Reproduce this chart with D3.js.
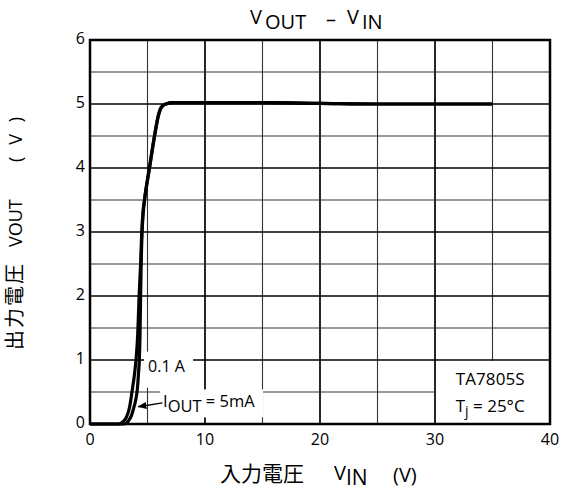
<!DOCTYPE html>
<html>
<head>
<meta charset="utf-8">
<script src="https://cdn.jsdelivr.net/npm/d3@7"></script>
<style>
  body { margin: 0; background: #fff; }
  text { font-family: "Open Sans", "Noto Sans", sans-serif; fill: #000; }
  .cjk { font-family: "Noto Sans CJK JP", sans-serif; }
</style>
</head>
<body>
<div id="chart"></div>
<script>
// axis ticks
var xTicks = [0, 10, 20, 30, 40];
var yTicks = [0, 1, 2, 3, 4, 5, 6];
var xGrid = [5, 10, 15, 20, 25, 30, 35];
var yGrid = [0.5, 1, 1.5, 2, 2.5, 3, 3.5, 4, 4.5, 5, 5.5];

// Iout = 0.1 A (left branch at the bottom)
var vin01A  = [0, 2.5, 2.9, 3.2, 3.45, 3.65, 3.85, 4.0, 4.15, 4.27, 4.4, 4.5, 4.6, 4.73, 5.16, 5.6, 5.95, 6.2, 6.6, 7.2, 10, 15, 20, 25, 30, 35];
var vout01A = [0, 0, 0.04, 0.12, 0.27, 0.5, 0.75, 1.0, 1.4, 2.0, 2.5, 3.0, 3.3, 3.5, 4.0, 4.5, 4.83, 4.95, 5.0, 5.02, 5.02, 5.02, 5.01, 5.0, 5.0, 5.0];

// Iout = 5 mA (right branch at the bottom)
var vin5mA  = [0, 3.0, 3.35, 3.6, 3.8, 4.0, 4.12, 4.22, 4.29, 4.35, 4.4, 4.45, 4.53, 4.63, 4.75, 5.18, 5.62, 5.97, 6.22, 6.62, 7.2, 10, 15, 20, 25, 30, 35];
var vout5mA = [0, 0, 0.05, 0.13, 0.25, 0.4, 0.55, 0.8, 1.0, 1.4, 2.0, 2.5, 3.0, 3.3, 3.5, 4.0, 4.5, 4.83, 4.95, 5.0, 5.02, 5.02, 5.02, 5.01, 5.0, 5.0, 5.0];

var svgWidth = 563;
var svgHeight = 490;
var margin = { top: 40, right: 13, bottom: 66, left: 90 };
var width = svgWidth - margin.left - margin.right;   // 460
var height = svgHeight - margin.top - margin.bottom; // 384

var svg = d3.select("#chart")
  .append("svg")
  .attr("width", svgWidth)
  .attr("height", svgHeight);

var chartGroup = svg.append("g")
  .attr("transform", `translate(${margin.left}, ${margin.top})`);

var x = d3.scaleLinear().domain([0, 40]).range([0, width]);
var y = d3.scaleLinear().domain([0, 6]).range([height, 0]);

// grid
chartGroup.selectAll(".vgrid")
  .data(xGrid)
  .enter()
  .append("line")
  .attr("x1", d => x(d)).attr("x2", d => x(d))
  .attr("y1", 0).attr("y2", height)
  .attr("stroke", d => d % 10 === 0 ? "#000" : "#333")
  .attr("stroke-width", d => d % 10 === 0 ? 1.7 : 1.1);

chartGroup.selectAll(".hgrid")
  .data(yGrid)
  .enter()
  .append("line")
  .attr("x1", 0).attr("x2", width)
  .attr("y1", d => y(d)).attr("y2", d => y(d))
  .attr("stroke", d => d % 1 === 0 ? "#000" : "#333")
  .attr("stroke-width", d => d % 1 === 0 ? 1.7 : 1.1);

// white boxes behind the annotations (grid is hidden there)
chartGroup.append("rect")
  .attr("x", x(4.7)).attr("y", y(1.13))
  .attr("width", 49).attr("height", 36)
  .attr("fill", "#fff");
chartGroup.append("rect")
  .attr("x", x(6.1)).attr("y", y(0.54))
  .attr("width", 103).attr("height", 28)
  .attr("fill", "#fff");
chartGroup.append("rect")
  .attr("x", x(30.1)).attr("y", y(0.985))
  .attr("width", x(40) - x(30.1)).attr("height", y(0) - y(0.985))
  .attr("fill", "#fff");

// frame
chartGroup.append("rect")
  .attr("width", width).attr("height", height)
  .attr("fill", "none")
  .attr("stroke", "#000")
  .attr("stroke-width", 2.5);

// tick labels
chartGroup.selectAll(".xtick")
  .data(xTicks)
  .enter()
  .append("text")
  .attr("x", d => x(d))
  .attr("y", height + 21)
  .attr("text-anchor", "middle")
  .style("font-size", "16px")
  .text(d => d);

chartGroup.selectAll(".ytick")
  .data(yTicks)
  .enter()
  .append("text")
  .attr("x", -5)
  .attr("y", d => y(d) + 4)
  .attr("text-anchor", "end")
  .style("font-size", "16px")
  .text(d => d);

// curves
var line = d3.line()
  .x(d => x(d[0]))
  .y(d => y(d[1]))
  .curve(d3.curveMonotoneX);

[[vin01A, vout01A], [vin5mA, vout5mA]].forEach(function(s) {
  chartGroup.append("path")
    .datum(d3.zip(s[0], s[1]))
    .attr("d", line)
    .attr("fill", "none")
    .attr("stroke", "#000")
    .attr("stroke-width", 3.2)
    .attr("stroke-linejoin", "round");
});

// annotations
chartGroup.append("text")
  .attr("x", x(5.05)).attr("y", y(0.81))
  .style("font-size", "16px")
  .text("0.1 A");

var iout = chartGroup.append("text")
  .attr("x", x(6.35)).attr("y", y(0.27))
  .style("font-size", "16.5px");
iout.append("tspan").text("I");
iout.append("tspan").attr("dy", 5).text("OUT");
iout.append("tspan").attr("dy", -5).text(" = 5mA");

svg.append("defs").append("marker")
  .attr("id", "arrow")
  .attr("viewBox", "0 0 10 10")
  .attr("refX", 9).attr("refY", 5)
  .attr("markerWidth", 6).attr("markerHeight", 6)
  .attr("orient", "auto")
  .append("path")
  .attr("d", "M0,1 L10,5 L0,9 Z")
  .attr("fill", "#000");

chartGroup.append("line")
  .attr("x1", x(6.3)).attr("y1", y(0.33))
  .attr("x2", x(4.2)).attr("y2", y(0.27))
  .attr("stroke", "#000")
  .attr("stroke-width", 1.5)
  .attr("marker-end", "url(#arrow)");

chartGroup.append("text")
  .attr("x", x(31.8)).attr("y", y(0.61))
  .attr("textLength", 69)
  .style("font-size", "17px")
  .text("TA7805S");

var tj = chartGroup.append("text")
  .attr("x", x(31.8)).attr("y", y(0.19))
  .style("font-size", "17px");
tj.append("tspan").text("T");
tj.append("tspan").attr("dy", 4).style("font-size", "14px").text("j");
tj.append("tspan").attr("dy", -4).text(" = 25°C");

// title
var title = svg.append("text").style("font-size", "20px");
title.append("tspan").attr("x", 250).attr("y", 24).text("V");
title.append("tspan").attr("x", 265).attr("y", 29).text("OUT");
title.append("tspan").attr("x", 326).attr("y", 26).text("–");
title.append("tspan").attr("x", 347).attr("y", 24).text("V");
title.append("tspan").attr("x", 362).attr("y", 29).text("IN");

// x axis label
svg.append("text")
  .attr("class", "cjk")
  .attr("x", 220).attr("y", 481)
  .style("font-size", "21px")
  .text("入力電圧");
var xl = svg.append("text").style("font-size", "20px");
xl.append("tspan").attr("x", 334).attr("y", 480).text("V");
xl.append("tspan").attr("x", 346).attr("y", 485).style("font-size", "21px").text("IN");
xl.append("tspan").attr("x", 393).attr("y", 482).text("(V)");

// y axis label
var yl = svg.append("g").attr("transform", "translate(22, 0) rotate(-90)");
yl.append("text")
  .attr("class", "cjk")
  .attr("x", -350).attr("y", 0)
  .attr("textLength", 86)
  .attr("lengthAdjust", "spacing")
  .style("font-size", "20px")
  .text("出力電圧");
yl.append("text")
  .attr("x", -247).attr("y", 0)
  .style("font-size", "18px")
  .text("VOUT");
yl.append("text")
  .attr("x", -162).attr("y", 0)
  .attr("textLength", 45)
  .attr("lengthAdjust", "spacing")
  .style("font-size", "18px")
  .text("(V)");
</script>
</body>
</html>
